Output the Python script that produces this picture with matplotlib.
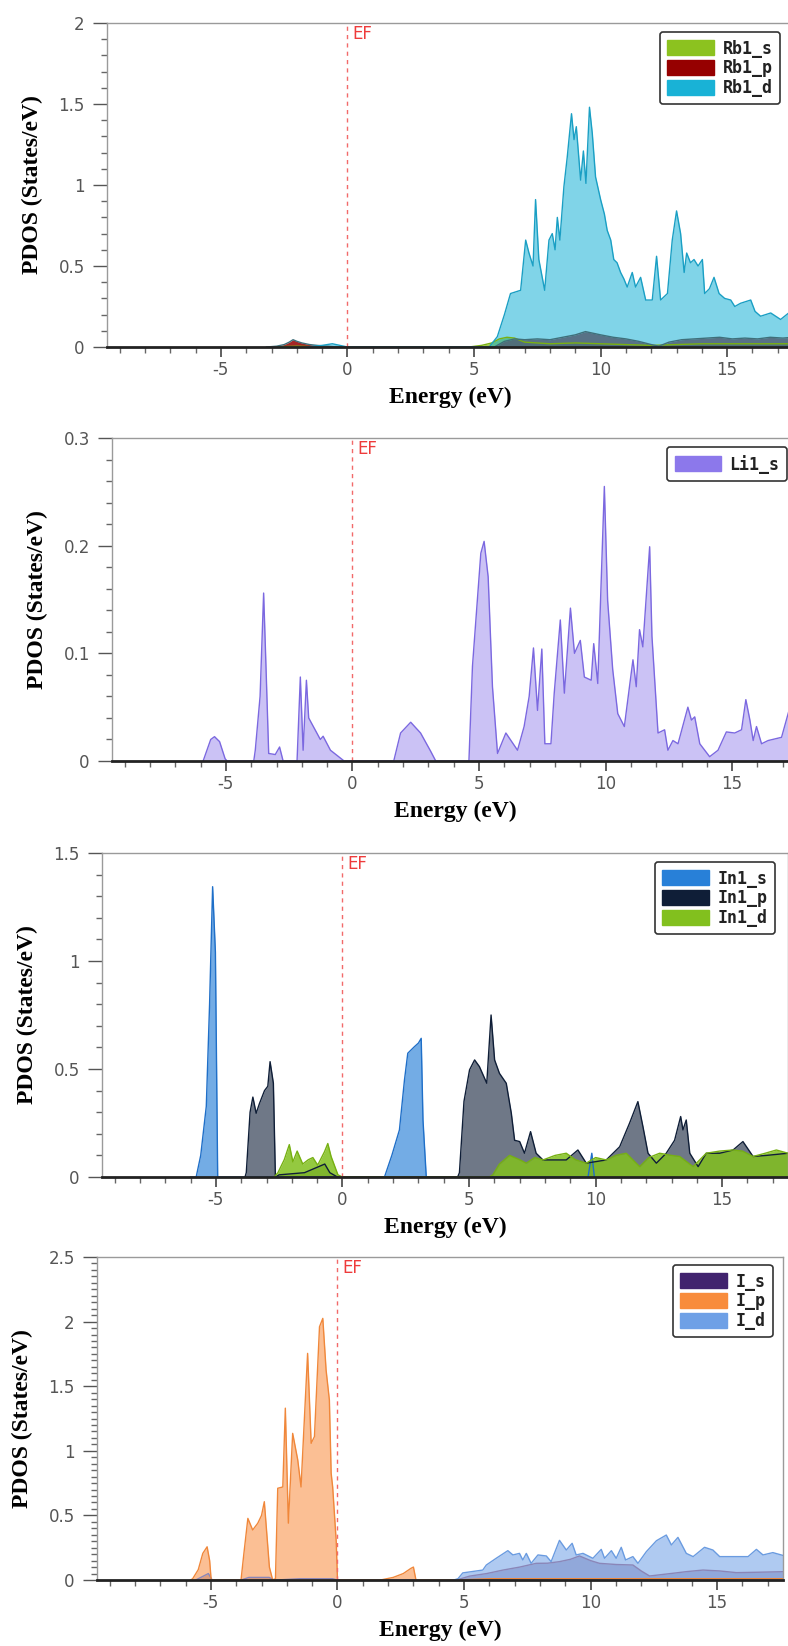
import numpy as np
import matplotlib
matplotlib.use('Agg')
import matplotlib.pyplot as plt
from matplotlib.patches import Patch
from matplotlib.ticker import MultipleLocator, FuncFormatter
from matplotlib.transforms import blended_transform_factory

# PDOS curves, (energy eV, states/eV)
rb1_s = [(-3.0, 0), (-2.0, 0.005), (-1.0, 0), (4.8, 0), (5.3, 0.01), (5.7, 0.025), (6.0, 0.05),
         (6.3, 0.06), (6.6, 0.055), (7.0, 0.03), (8.0, 0.02), (9.0, 0.025), (10.0, 0.02),
         (11.0, 0.015), (12.0, 0.01), (13.0, 0.015), (14.0, 0.02), (15.0, 0.02), (16.0, 0.02),
         (17.0, 0.02), (17.6, 0.02)]
rb1_p = [(-3.2, 0), (-2.8, 0.005), (-2.5, 0.015), (-2.3, 0.03), (-2.15, 0.045), (-2.0, 0.035),
         (-1.8, 0.025), (-1.5, 0.015), (-1.2, 0.01), (-0.8, 0.005), (-0.4, 0), (5.8, 0),
         (6.2, 0.035), (6.6, 0.05), (7.0, 0.045), (7.5, 0.05), (8.0, 0.045), (8.5, 0.06),
         (9.0, 0.075), (9.4, 0.095), (9.7, 0.085), (10.0, 0.075), (10.5, 0.06), (11.0, 0.05),
         (11.5, 0.035), (12.0, 0.015), (12.3, 0.005), (12.7, 0.03), (13.2, 0.045), (13.7, 0.05),
         (14.2, 0.055), (14.7, 0.06), (15.2, 0.05), (15.7, 0.055), (16.2, 0.05), (16.7, 0.06),
         (17.2, 0.055), (17.6, 0.06)]
rb1_d = [(-1.6, 0), (-1.0, 0.01), (-0.6, 0.02), (-0.3, 0.01), (0.0, 0), (5.6, 0), (5.92, 0.064),
         (6.2, 0.2), (6.44, 0.33), (6.84, 0.35), (7.04, 0.66), (7.17, 0.58), (7.33, 0.5),
         (7.43, 0.91), (7.56, 0.54), (7.79, 0.35), (7.96, 0.66), (8.09, 0.70), (8.2, 0.6),
         (8.29, 0.80), (8.39, 0.66), (8.55, 0.99), (8.68, 1.17), (8.85, 1.44), (8.95, 1.28),
         (9.04, 1.36), (9.21, 1.03), (9.32, 1.21), (9.42, 1.01), (9.56, 1.48), (9.67, 1.32),
         (9.80, 1.05), (10.0, 0.91), (10.15, 0.82), (10.26, 0.72), (10.4, 0.66), (10.52, 0.54),
         (10.65, 0.52), (10.79, 0.46), (10.92, 0.42), (11.05, 0.37), (11.25, 0.46), (11.38, 0.37),
         (11.58, 0.43), (11.78, 0.29), (12.04, 0.29), (12.21, 0.56), (12.37, 0.29), (12.64, 0.33),
         (12.83, 0.66), (13.0, 0.84), (13.16, 0.70), (13.3, 0.46), (13.4, 0.58), (13.55, 0.52),
         (13.69, 0.54), (13.85, 0.5), (14.02, 0.54), (14.11, 0.33), (14.3, 0.36), (14.48, 0.43),
         (14.68, 0.33), (14.9, 0.3), (15.14, 0.29), (15.3, 0.25), (15.53, 0.27), (15.93, 0.29),
         (16.1, 0.22), (16.32, 0.19), (16.72, 0.21), (17.11, 0.17), (17.43, 0.21), (17.6, 0.19)]

li1_s = [(-5.9, 0), (-5.75, 0.01), (-5.6, 0.02), (-5.45, 0.0226), (-5.25, 0.018), (-5.03, 0.002),
         (-4.95, 0), (-3.9, 0), (-3.84, 0.01), (-3.65, 0.06), (-3.51, 0.156), (-3.42, 0.09),
         (-3.31, 0.007), (-3.05, 0.006), (-2.88, 0.013), (-2.74, 0), (-2.19, 0), (-2.06, 0.078),
         (-1.95, 0.01), (-1.82, 0.075), (-1.73, 0.04), (-1.5, 0.03), (-1.27, 0.02), (-1.16, 0.023),
         (-0.87, 0.01), (-0.6, 0.005), (-0.33, 0), (1.63, 0), (1.9, 0.026), (2.3, 0.036),
         (2.69, 0.026), (3.09, 0.009), (3.29, 0), (4.6, 0), (4.74, 0.088), (5.07, 0.193),
         (5.2, 0.204), (5.36, 0.171), (5.53, 0.069), (5.73, 0.007), (6.06, 0.026), (6.52, 0.010),
         (6.78, 0.032), (6.98, 0.060), (7.15, 0.105), (7.31, 0.047), (7.48, 0.104), (7.6, 0.016),
         (7.84, 0.016), (7.97, 0.063), (8.21, 0.131), (8.37, 0.063), (8.61, 0.142), (8.77, 0.10),
         (9.0, 0.112), (9.16, 0.078), (9.43, 0.075), (9.53, 0.109), (9.69, 0.072), (9.95, 0.255),
         (10.08, 0.149), (10.28, 0.085), (10.48, 0.044), (10.74, 0.032), (11.08, 0.094),
         (11.21, 0.069), (11.34, 0.122), (11.47, 0.106), (11.74, 0.199), (11.83, 0.116),
         (12.07, 0.026), (12.33, 0.029), (12.46, 0.010), (12.66, 0.019), (12.86, 0.016),
         (13.25, 0.050), (13.39, 0.038), (13.52, 0.041), (13.72, 0.016), (14.11, 0.004),
         (14.44, 0.010), (14.77, 0.027), (15.1, 0.026), (15.37, 0.029), (15.54, 0.057),
         (15.7, 0.038), (15.83, 0.019), (15.96, 0.032), (16.16, 0.016), (16.42, 0.019),
         (16.95, 0.022), (17.21, 0.044), (17.4, 0.06), (17.6, 0.065)]

in1_s = [(-6.0, 0), (-5.78, 0), (-5.6, 0.1), (-5.38, 0.327), (-5.25, 0.8), (-5.13, 1.344),
         (-5.02, 1.04), (-4.93, 0), (1.5, 0), (1.66, 0), (1.95, 0.1), (2.25, 0.218), (2.45, 0.45),
         (2.58, 0.573), (2.84, 0.603), (3.0, 0.62), (3.11, 0.642), (3.18, 0.264), (3.31, 0),
         (9.7, 0), (9.85, 0.11), (9.95, 0)]
in1_p = [(-3.85, 0), (-3.8, 0.02), (-3.65, 0.3), (-3.54, 0.37), (-3.41, 0.295), (-3.28, 0.34),
         (-3.08, 0.40), (-2.95, 0.42), (-2.86, 0.534), (-2.73, 0.434), (-2.65, 0), (-2.5, 0.01),
         (-1.5, 0.02), (-0.7, 0.06), (-0.5, 0.02), (-0.2, 0), (4.55, 0), (4.62, 0.02), (4.8, 0.35),
         (5.02, 0.496), (5.22, 0.542), (5.41, 0.511), (5.7, 0.434), (5.87, 0.75), (6.01, 0.542),
         (6.2, 0.48), (6.47, 0.434), (6.67, 0.295), (6.8, 0.17), (7.0, 0.164), (7.19, 0.11),
         (7.43, 0.21), (7.65, 0.11), (7.92, 0.079), (8.44, 0.079), (8.84, 0.079), (9.3, 0.125),
         (9.63, 0.064), (10.42, 0.079), (10.95, 0.14), (11.34, 0.249), (11.67, 0.349),
         (11.87, 0.233), (12.07, 0.11), (12.4, 0.064), (12.79, 0.11), (13.12, 0.17), (13.36, 0.28),
         (13.45, 0.218), (13.58, 0.264), (13.72, 0.11), (14.05, 0.048), (14.37, 0.11), (14.9, 0.11),
         (15.43, 0.125), (15.82, 0.164), (16.22, 0.095), (16.75, 0.10), (17.6, 0.11)]
in1_d = [(-2.7, 0), (-2.55, 0.02), (-2.3, 0.08), (-2.1, 0.15), (-1.96, 0.07), (-1.79, 0.12),
         (-1.57, 0.06), (-1.35, 0.08), (-1.17, 0.09), (-0.98, 0.055), (-0.71, 0.117), (-0.58, 0.155),
         (-0.45, 0.095), (-0.18, 0.01), (0.0, 0), (5.8, 0), (5.94, 0.01), (6.2, 0.06), (6.6, 0.10),
         (7.0, 0.08), (7.26, 0.064), (7.6, 0.09), (7.92, 0.079), (8.4, 0.1), (8.84, 0.11),
         (9.2, 0.08), (9.63, 0.064), (10.0, 0.09), (10.42, 0.079), (10.8, 0.1), (11.21, 0.11),
         (11.74, 0.048), (12.1, 0.09), (12.53, 0.11), (13.0, 0.1), (13.32, 0.095), (13.85, 0.048),
         (14.37, 0.11), (14.9, 0.12), (15.43, 0.125), (15.8, 0.12), (16.22, 0.095), (16.7, 0.11),
         (17.14, 0.125), (17.6, 0.11)]

i_s = [(-5.6, 0), (-5.3, 0.03), (-5.1, 0.05), (-4.95, 0), (-3.8, 0), (-3.5, 0.02), (-2.7, 0.02),
       (-2.5, 0), (-2.4, 0), (-1.5, 0.01), (-0.2, 0.01), (0.0, 0), (4.7, 0), (5.22, 0.03),
       (5.9, 0.05), (6.54, 0.077), (7.2, 0.1), (7.85, 0.129), (8.3, 0.13), (8.77, 0.142),
       (9.2, 0.16), (9.56, 0.186), (10.0, 0.15), (10.35, 0.129), (11.0, 0.12), (11.67, 0.116),
       (12.0, 0.07), (12.33, 0.031), (13.25, 0.052), (13.8, 0.065), (14.44, 0.077), (15.1, 0.07),
       (15.76, 0.057), (16.6, 0.06), (17.53, 0.064), (17.6, 0.065)]
i_p = [(-5.8, 0), (-5.72, 0.01), (-5.5, 0.08), (-5.32, 0.206), (-5.15, 0.257), (-5.05, 0.15),
       (-4.99, 0), (-3.81, 0), (-3.7, 0.2), (-3.54, 0.477), (-3.35, 0.387), (-3.15, 0.439),
       (-3.0, 0.5), (-2.89, 0.606), (-2.69, 0.1), (-2.56, 0), (-2.45, 0.01), (-2.36, 0.71),
       (-2.16, 0.72), (-2.06, 1.33), (-1.94, 0.44), (-1.77, 1.135), (-1.57, 0.93), (-1.44, 0.72),
       (-1.18, 1.754), (-1.04, 1.058), (-0.91, 1.11), (-0.71, 1.96), (-0.58, 2.025),
       (-0.45, 1.625), (-0.32, 1.393), (-0.25, 0.826), (-0.19, 0.72), (-0.05, 0.3), (0.0, 0),
       (1.7, 0), (2.2, 0.02), (2.6, 0.05), (2.9, 0.09), (3.0, 0.1), (3.1, 0), (4.7, 0),
       (6.0, 0.01), (17.6, 0.01)]
i_d = [(4.6, 0), (4.76, 0.01), (4.95, 0.055), (5.74, 0.077), (5.88, 0.116), (6.27, 0.168),
       (6.73, 0.227), (6.93, 0.194), (7.19, 0.206), (7.32, 0.155), (7.46, 0.206), (7.65, 0.129),
       (7.92, 0.194), (8.25, 0.186), (8.44, 0.142), (8.77, 0.307), (9.04, 0.232), (9.27, 0.284),
       (9.43, 0.194), (9.7, 0.206), (10.09, 0.168), (10.42, 0.237), (10.55, 0.168),
       (10.82, 0.227), (11.01, 0.168), (11.21, 0.253), (11.38, 0.155), (11.67, 0.181),
       (11.87, 0.129), (12.2, 0.219), (12.6, 0.304), (12.99, 0.348), (13.19, 0.271),
       (13.45, 0.330), (13.78, 0.206), (14.05, 0.181), (14.5, 0.253), (14.83, 0.232),
       (15.1, 0.181), (15.76, 0.181), (16.22, 0.181), (16.55, 0.237), (16.81, 0.194),
       (17.2, 0.212), (17.53, 0.194), (17.6, 0.19)]

# (label, data, colour, edge colour, fill alpha)
panels = [
    dict(rect=(107, 23, 347), ylim=2.0, major=0.5, minor=0.1, anchor=(0.981, 0.972),
         series=[('Rb1_s', rb1_s, '#8CC21F', '#7AB010', 0.8),
                 ('Rb1_p', rb1_p, '#960000', '#3f6f7a', 0.85),
                 ('Rb1_d', rb1_d, '#19B2D6', '#1a9fc4', 0.55)]),
    dict(rect=(112, 438, 761), ylim=0.3, major=0.1, minor=0.02, anchor=(0.984, 0.972),
         series=[('Li1_s', li1_s, '#8C78EB', '#7B68E0', 0.45)]),
    dict(rect=(102, 853, 1177), ylim=1.5, major=0.5, minor=0.1, anchor=(0.981, 0.972),
         series=[('In1_s', in1_s, '#2880D8', '#1f6fc8', 0.65),
                 ('In1_p', in1_p, '#0F1E37', '#0F1E37', 0.6),
                 ('In1_d', in1_d, '#82C01E', '#76b012', 0.85)]),
    dict(rect=(97, 1257, 1580), ylim=2.5, major=0.5, minor=0.05, anchor=(0.985, 0.975),
         series=[('I_s', i_s, '#41236E', '#8a86b8', 0.35),
                 ('I_p', i_p, '#F88C3C', '#F0873A', 0.55),
                 ('I_d', i_d, '#6EA0E6', '#6A9BE0', 0.55)]),
]

W, H = 788, 1646
AX_W = 686
fig = plt.figure(figsize=(W / 100, H / 100), dpi=100)

label_font = dict(family='Liberation Serif', weight='bold', size=17)

for p in panels:
    left, top, bottom = p['rect']
    ax = fig.add_axes([left / W, 1 - bottom / H, AX_W / W, (bottom - top) / H])

    handles = []
    for name, data, col, edge, a in p['series']:
        e, v = np.array(data).T
        ax.fill_between(e, 0, v, color=col, alpha=a, lw=0)
        ax.plot(e, v, color=edge, lw=1)
        handles.append(Patch(facecolor=col, edgecolor=col, label=name))

    ax.set_xlim(-9.5, 17.6)
    ax.set_ylim(0, p['ylim'])
    ax.xaxis.set_major_locator(MultipleLocator(5))
    ax.xaxis.set_minor_locator(MultipleLocator(1))
    ax.yaxis.set_major_locator(MultipleLocator(p['major']))
    ax.yaxis.set_minor_locator(MultipleLocator(p['minor']))
    fmt = FuncFormatter(lambda val, pos: f'{val:g}')
    ax.xaxis.set_major_formatter(fmt)
    ax.yaxis.set_major_formatter(fmt)

    ax.tick_params(axis='y', which='major', length=10, width=1, color='#555',
                   labelsize=12, labelcolor='#555', pad=6)
    ax.tick_params(axis='y', which='minor', length=4, width=1, color='#666')
    ax.tick_params(axis='x', which='major', length=7, width=1.2, color='#444',
                   labelsize=12, labelcolor='#555', pad=3)
    ax.tick_params(axis='x', which='minor', length=4, width=1, color='#666')

    for s in ('top', 'left', 'right'):
        ax.spines[s].set_color('#9a9a9a')
        ax.spines[s].set_linewidth(1)
    ax.spines['bottom'].set_color('#222')
    ax.spines['bottom'].set_linewidth(2)

    # Fermi level marker
    ax.axvline(0, color='#f26a6a', ls=(0, (3, 3)), lw=1)
    tr = blended_transform_factory(ax.transData, ax.transAxes)
    ax.text(0.2, 0.995, 'EF', transform=tr, color='#ee3b3b', fontsize=12, va='top', ha='left')

    ax.set_xlabel('Energy (eV)', **label_font)
    ax.set_ylabel('PDOS (States/eV)', **label_font)
    ax.xaxis.set_label_coords(0.5, -40 / (bottom - top))
    ax.yaxis.set_label_coords(-64 / AX_W, 0.5)

    leg = ax.legend(handles=handles, loc='upper right', bbox_to_anchor=p['anchor'],
                    borderaxespad=0, fancybox=True, framealpha=1, handlelength=2.8,
                    handleheight=1.0, handletextpad=0.5, labelspacing=0.1, borderpad=0.45,
                    prop=dict(family='DejaVu Sans Mono', weight='bold', size=12))
    leg.get_frame().set_edgecolor('#333')
    leg.get_frame().set_linewidth(1.2)
    for t in leg.get_texts():
        t.set_color('#222')

fig.savefig('out.png', dpi=100)
